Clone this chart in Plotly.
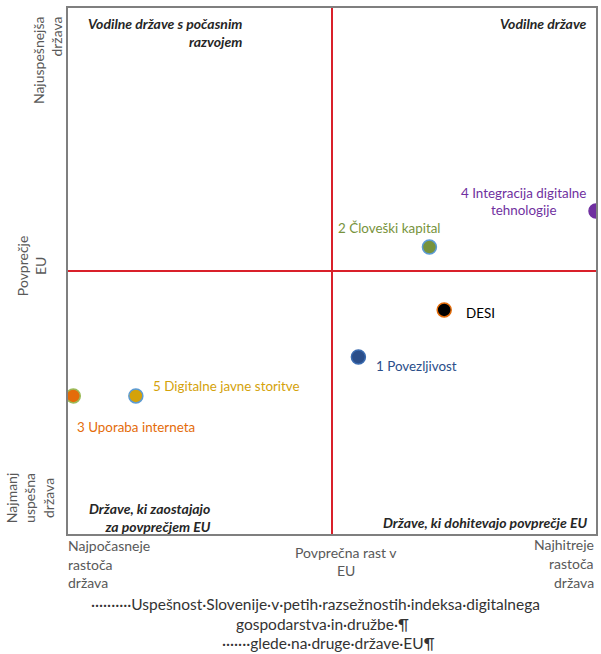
import plotly.graph_objects as go

# ---- data (relative position: x = growth vs EU average, y = performance vs EU average)
names = ["DESI", "1 Povezljivost", "2 Človeški kapital", "3 Uporaba interneta",
         "4 Integracija digitalne<br>tehnologije", "5 Digitalne javne storitve"]
growth = [0.425, 0.10, 0.369, -0.98, 1.0, -0.743]
performance = [-0.148, -0.327, 0.091, -0.475, 0.228, -0.475]

quadrant_labels = ["Vodilne države s počasnim<br>razvojem", "Vodilne države",
                   "Države, ki zaostajajo<br>za povprečjem EU", "Države, ki dohitevajo povprečje EU"]
y_labels = ["Najuspešnejša<br>država", "Povprečje<br>EU", "Najmanj<br>uspešna<br>država"]
x_labels_left = ["Najpočasneje", "rastoča", "država"]
x_labels_mid = ["Povprečna rast v", "EU"]
x_labels_right = ["Najhitreje", "rastoča", "država"]
caption = ["··········Uspešnost·Slovenije·v·petih·razsežnostih·indeksa·digitalnega",
           "gospodarstva·in·družbe·¶",
           "·······glede·na·druge·države·EU¶"]

# ---- styles
fill_colors = ["#000000", "#2A4E8A", "#77933C", "#E46C0A", "#7030A0", "#D4A20A"]
line_colors = ["#E46C0A", "#3A6BB0", "#5B9BD5", "#9BBB59", "#7030A0", "#5B9BD5"]
text_colors = ["#000000", "#2A4E8A", "#77933C", "#E46C0A", "#7030A0", "#D4A20A"]
label_anchor = ["left", "left", "center", "left", "center", "left"]
label_dx = [20, 16, -40, 2, -73, 15]
label_dy = [-3, -9, 19, -31, 10, 10]

FONT = "Lato"
L, R, T, B = 68, 3, 8, 120
W, H = 601, 654
PW, PH = W - L - R, H - T - B


def px(x):  # window pixel -> paper fraction
    return (x - L) / PW


def py(y):
    return (H - B - y) / PH


fig = go.Figure()
fig.add_trace(go.Scatter(
    x=growth, y=performance, mode="markers",
    marker=dict(size=14, color=fill_colors, line=dict(color=line_colors, width=1.5)),
    hoverinfo="skip", showlegend=False, cliponaxis=True))

annotations = []
for n, xv, yv, c, a, dx, dy in zip(names, growth, performance, text_colors,
                                    label_anchor, label_dx, label_dy):
    annotations.append(dict(x=xv, y=yv, xref="x", yref="y", text=n, showarrow=False,
                            xanchor=a, yanchor="middle", xshift=dx, yshift=dy,
                            align="center", font=dict(family=FONT, size=13.4, color=c)))

qfont = dict(family=FONT, size=14, color="#262626", weight="bold", style="italic")
annotations += [
    dict(x=px(245), y=py(13), xref="paper", yref="paper", text=quadrant_labels[0],
         xanchor="right", yanchor="top", align="right", showarrow=False, font=qfont),
    dict(x=px(591), y=py(13), xref="paper", yref="paper", text=quadrant_labels[1],
         xanchor="right", yanchor="top", align="right", showarrow=False, font=qfont),
    dict(x=px(214), y=py(537), xref="paper", yref="paper", text=quadrant_labels[2],
         xanchor="right", yanchor="bottom", align="right", showarrow=False, font=qfont),
    dict(x=px(591), y=py(533), xref="paper", yref="paper", text=quadrant_labels[3],
         xanchor="right", yanchor="bottom", align="right", showarrow=False, font=qfont),
]

gfont = dict(family=FONT, size=14, color="#595959")
for txt, cx, cy, al in zip(y_labels, [48, 31, 29], [60, 266, 498], ["right", "center", "center"]):
    annotations.append(dict(x=px(cx), y=py(cy), xref="paper", yref="paper", text=txt,
                            textangle=-90, xanchor="center", yanchor="middle", align=al,
                            showarrow=False, font=gfont))

for txt, cy in zip(x_labels_left, [545, 564, 582]):
    annotations.append(dict(x=px(66), y=py(cy), xref="paper", yref="paper", text=txt,
                            xanchor="left", yanchor="middle", showarrow=False, font=gfont))
for txt, cy in zip(x_labels_mid, [552, 570]):
    annotations.append(dict(x=px(347), y=py(cy), xref="paper", yref="paper", text=txt,
                            xanchor="center", yanchor="middle", showarrow=False, font=gfont))
for txt, cy in zip(x_labels_right, [544, 563, 582]):
    annotations.append(dict(x=px(598), y=py(cy), xref="paper", yref="paper", text=txt,
                            xanchor="right", yanchor="middle", showarrow=False, font=gfont))

cfont = dict(family=FONT, size=15.5, color="#333333")
for txt, cx, cy in zip(caption, [316, 323, 329], [604, 624, 643]):
    annotations.append(dict(x=px(cx), y=py(cy), xref="paper", yref="paper", text=txt,
                            xanchor="center", yanchor="middle", showarrow=False, font=cfont))

red = "#D9202A"
shapes = [
    dict(type="line", xref="x", yref="paper", x0=0, x1=0, y0=0, y1=1,
         line=dict(color=red, width=2), layer="below"),
    dict(type="line", xref="paper", yref="y", x0=0, x1=1, y0=0, y1=0,
         line=dict(color=red, width=2), layer="below"),
]

fig.update_layout(
    width=W, height=H, margin=dict(l=L, r=R, t=T, b=B),
    paper_bgcolor="white", plot_bgcolor="white",
    xaxis=dict(range=[-1, 1], showgrid=False, zeroline=False, showticklabels=False,
               ticks="", showline=True, mirror=True, linecolor="#7F7F7F", linewidth=2,
               fixedrange=True),
    yaxis=dict(range=[-1, 1], showgrid=False, zeroline=False, showticklabels=False,
               ticks="", showline=True, mirror=True, linecolor="#7F7F7F", linewidth=2,
               fixedrange=True),
    annotations=annotations, shapes=shapes, showlegend=False,
)

fig.write_html("out.html", config={"displayModeBar": False},
               post_script="document.body.style.margin='0';document.body.style.overflow='hidden';")
